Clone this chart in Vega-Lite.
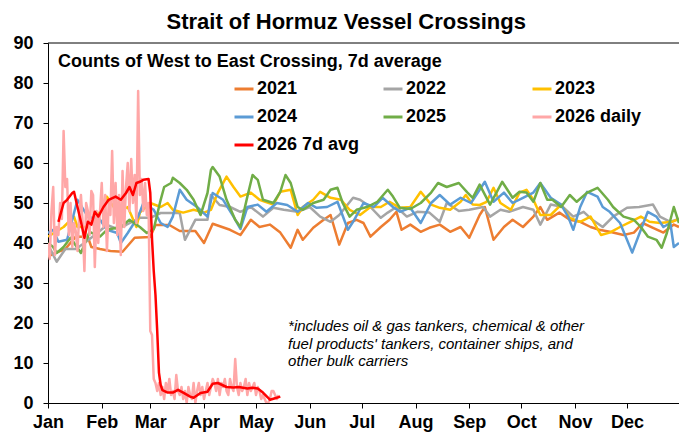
{
  "$schema": "https://vega.github.io/schema/vega-lite/v6.json",
  "width": 631,
  "height": 360,
  "autosize": {"type": "none"},
  "padding": {"left": 48, "top": 43, "right": 0, "bottom": 34},
  "background": "white",
  "config": {
    "view": {"stroke": null},
    "font": "Liberation Sans",
    "title": {"font": "Liberation Sans"},
    "axis": {"labelFont": "Liberation Sans", "titleFont": "Liberation Sans"},
    "legend": {"labelFont": "Liberation Sans"}
  },
  "title": {
    "text": "Strait of Hormuz Vessel Crossings",
    "fontSize": 22,
    "fontWeight": "bold",
    "color": "black",
    "anchor": "middle",
    "frame": "bounds",
    "offset": 0
  },
  "datasets": {
    "main": [
      {"series":"2021","day":0,"value":36.6},{"series":"2021","day":4,"value":37.5},{"series":"2021","day":10,"value":38.5},{"series":"2021","day":16,"value":41.6},{"series":"2021","day":23,"value":41.5},{"series":"2021","day":25,"value":39},{"series":"2021","day":30,"value":38.5},{"series":"2021","day":36,"value":38},{"series":"2021","day":43,"value":37.8},{"series":"2021","day":50,"value":41.3},{"series":"2021","day":59,"value":41.5},{"series":"2021","day":62,"value":44.5},{"series":"2021","day":70,"value":44.5},{"series":"2021","day":76,"value":43},{"series":"2021","day":85,"value":43},{"series":"2021","day":90,"value":40},{"series":"2021","day":95,"value":44.8},{"series":"2021","day":105,"value":43.3},{"series":"2021","day":111,"value":42},{"series":"2021","day":117,"value":45.8},{"series":"2021","day":122,"value":44},{"series":"2021","day":128,"value":44.6},{"series":"2021","day":134,"value":42.6},{"series":"2021","day":140,"value":38.8},{"series":"2021","day":144,"value":43.3},{"series":"2021","day":147,"value":40.8},{"series":"2021","day":153,"value":43.8},{"series":"2021","day":159,"value":45.8},{"series":"2021","day":163,"value":47},{"series":"2021","day":168,"value":39.6},{"series":"2021","day":173,"value":45},{"series":"2021","day":178,"value":45.8},{"series":"2021","day":182,"value":45},{"series":"2021","day":186,"value":41.6},{"series":"2021","day":192,"value":44},{"series":"2021","day":197,"value":45.8},{"series":"2021","day":201,"value":47.8},{"series":"2021","day":204,"value":43.3},{"series":"2021","day":209,"value":44.6},{"series":"2021","day":215,"value":42.8},{"series":"2021","day":220,"value":43.8},{"series":"2021","day":226,"value":44.6},{"series":"2021","day":232,"value":42.8},{"series":"2021","day":238,"value":44},{"series":"2021","day":243,"value":41.3},{"series":"2021","day":249,"value":47},{"series":"2021","day":252,"value":49},{"series":"2021","day":257,"value":40.8},{"series":"2021","day":263,"value":44},{"series":"2021","day":268,"value":45.8},{"series":"2021","day":274,"value":44},{"series":"2021","day":280,"value":46.6},{"series":"2021","day":284,"value":49},{"series":"2021","day":288,"value":45.8},{"series":"2021","day":295,"value":47.6},{"series":"2021","day":301,"value":45.8},{"series":"2021","day":307,"value":45.3},{"series":"2021","day":313,"value":44},{"series":"2021","day":318,"value":43.3},{"series":"2021","day":324,"value":42.8},{"series":"2021","day":332,"value":42},{"series":"2021","day":338,"value":42.6},{"series":"2021","day":343,"value":45},{"series":"2021","day":349,"value":43.8},{"series":"2021","day":355,"value":42.6},{"series":"2021","day":361,"value":44.6},{"series":"2021","day":364,"value":44},
      {"series":"2022","day":0,"value":39.6},{"series":"2022","day":5,"value":35.3},{"series":"2022","day":10,"value":38.5},{"series":"2022","day":16,"value":38.5},{"series":"2022","day":21,"value":40},{"series":"2022","day":27,"value":42},{"series":"2022","day":34,"value":44.5},{"series":"2022","day":40,"value":43.5},{"series":"2022","day":45,"value":44.5},{"series":"2022","day":53,"value":46.3},{"series":"2022","day":59,"value":46.3},{"series":"2022","day":65,"value":47.5},{"series":"2022","day":70,"value":47.5},{"series":"2022","day":76,"value":47.5},{"series":"2022","day":79,"value":40.8},{"series":"2022","day":85,"value":45.8},{"series":"2022","day":92,"value":45.8},{"series":"2022","day":94,"value":52},{"series":"2022","day":99,"value":49.5},{"series":"2022","day":105,"value":49},{"series":"2022","day":111,"value":47.8},{"series":"2022","day":117,"value":49},{"series":"2022","day":124,"value":46.6},{"series":"2022","day":130,"value":48.8},{"series":"2022","day":136,"value":48.3},{"series":"2022","day":144,"value":47.8},{"series":"2022","day":151,"value":49},{"series":"2022","day":157,"value":46.6},{"series":"2022","day":163,"value":45.3},{"series":"2022","day":168,"value":47},{"series":"2022","day":176,"value":51.3},{"series":"2022","day":180,"value":50.8},{"series":"2022","day":186,"value":49},{"series":"2022","day":192,"value":46.3},{"series":"2022","day":196,"value":47.6},{"series":"2022","day":201,"value":49},{"series":"2022","day":207,"value":46.6},{"series":"2022","day":213,"value":47.8},{"series":"2022","day":220,"value":47.6},{"series":"2022","day":226,"value":45.3},{"series":"2022","day":230,"value":50},{"series":"2022","day":237,"value":48},{"series":"2022","day":243,"value":48.3},{"series":"2022","day":251,"value":49},{"series":"2022","day":255,"value":46.6},{"series":"2022","day":261,"value":48.3},{"series":"2022","day":266,"value":47.8},{"series":"2022","day":274,"value":49},{"series":"2022","day":280,"value":48.3},{"series":"2022","day":284,"value":44.6},{"series":"2022","day":290,"value":49.6},{"series":"2022","day":297,"value":49},{"series":"2022","day":303,"value":46.6},{"series":"2022","day":309,"value":47.8},{"series":"2022","day":314,"value":45.8},{"series":"2022","day":320,"value":44},{"series":"2022","day":326,"value":46.6},{"series":"2022","day":334,"value":48.8},{"series":"2022","day":341,"value":49},{"series":"2022","day":349,"value":49.6},{"series":"2022","day":353,"value":46.6},{"series":"2022","day":359,"value":45.3},{"series":"2022","day":364,"value":46},
      {"series":"2023","day":0,"value":41.6},{"series":"2023","day":9,"value":44},{"series":"2023","day":15,"value":46.6},{"series":"2023","day":17,"value":44},{"series":"2023","day":23,"value":44},{"series":"2023","day":28,"value":46.6},{"series":"2023","day":32,"value":49},{"series":"2023","day":34,"value":51.6},{"series":"2023","day":40,"value":47.6},{"series":"2023","day":46,"value":49},{"series":"2023","day":51,"value":44},{"series":"2023","day":53,"value":47.6},{"series":"2023","day":59,"value":50},{"series":"2023","day":65,"value":49},{"series":"2023","day":69,"value":50},{"series":"2023","day":72,"value":48.3},{"series":"2023","day":78,"value":47.6},{"series":"2023","day":84,"value":48.3},{"series":"2023","day":90,"value":47.6},{"series":"2023","day":94,"value":48.3},{"series":"2023","day":98,"value":52.6},{"series":"2023","day":103,"value":56.6},{"series":"2023","day":107,"value":54},{"series":"2023","day":111,"value":51.6},{"series":"2023","day":117,"value":52.6},{"series":"2023","day":122,"value":50.8},{"series":"2023","day":130,"value":49.6},{"series":"2023","day":134,"value":52.8},{"series":"2023","day":140,"value":53.3},{"series":"2023","day":144,"value":47},{"series":"2023","day":147,"value":49},{"series":"2023","day":153,"value":50.8},{"series":"2023","day":157,"value":52.8},{"series":"2023","day":163,"value":51.3},{"series":"2023","day":169,"value":50.8},{"series":"2023","day":174,"value":48.3},{"series":"2023","day":180,"value":47},{"series":"2023","day":186,"value":49},{"series":"2023","day":192,"value":49},{"series":"2023","day":197,"value":50.3},{"series":"2023","day":203,"value":48.8},{"series":"2023","day":209,"value":49},{"series":"2023","day":215,"value":52.8},{"series":"2023","day":221,"value":49.6},{"series":"2023","day":226,"value":48.8},{"series":"2023","day":232,"value":48.3},{"series":"2023","day":238,"value":50.3},{"series":"2023","day":241,"value":52},{"series":"2023","day":245,"value":49.6},{"series":"2023","day":249,"value":49.5},{"series":"2023","day":253,"value":50.3},{"series":"2023","day":257,"value":53.8},{"series":"2023","day":261,"value":50},{"series":"2023","day":267,"value":48.3},{"series":"2023","day":272,"value":52.6},{"series":"2023","day":276,"value":53.3},{"series":"2023","day":280,"value":50.8},{"series":"2023","day":284,"value":47},{"series":"2023","day":290,"value":47},{"series":"2023","day":296,"value":49.6},{"series":"2023","day":301,"value":46.3},{"series":"2023","day":307,"value":45.3},{"series":"2023","day":313,"value":46.6},{"series":"2023","day":319,"value":42},{"series":"2023","day":324,"value":42.6},{"series":"2023","day":330,"value":44},{"series":"2023","day":336,"value":45.3},{"series":"2023","day":342,"value":46.6},{"series":"2023","day":347,"value":45.3},{"series":"2023","day":353,"value":45},{"series":"2023","day":360,"value":45.3},{"series":"2023","day":364,"value":46},
      {"series":"2024","day":0,"value":42.5},{"series":"2024","day":3,"value":43.3},{"series":"2024","day":6,"value":40.3},{"series":"2024","day":11,"value":40.8},{"series":"2024","day":17,"value":50.8},{"series":"2024","day":23,"value":46.6},{"series":"2024","day":30,"value":45.8},{"series":"2024","day":34,"value":43.3},{"series":"2024","day":40,"value":42.5},{"series":"2024","day":42,"value":40},{"series":"2024","day":46,"value":42.5},{"series":"2024","day":52,"value":46.6},{"series":"2024","day":55,"value":50},{"series":"2024","day":61,"value":48.3},{"series":"2024","day":65,"value":45},{"series":"2024","day":69,"value":44},{"series":"2024","day":72,"value":46.6},{"series":"2024","day":76,"value":53.3},{"series":"2024","day":80,"value":50.8},{"series":"2024","day":86,"value":49},{"series":"2024","day":92,"value":46.6},{"series":"2024","day":95,"value":52.5},{"series":"2024","day":101,"value":50.8},{"series":"2024","day":107,"value":46.6},{"series":"2024","day":111,"value":43.5},{"series":"2024","day":115,"value":49},{"series":"2024","day":121,"value":49.6},{"series":"2024","day":126,"value":47.8},{"series":"2024","day":132,"value":50},{"series":"2024","day":138,"value":49.5},{"series":"2024","day":144,"value":47.8},{"series":"2024","day":150,"value":50},{"series":"2024","day":155,"value":48.8},{"series":"2024","day":161,"value":49},{"series":"2024","day":167,"value":50.3},{"series":"2024","day":173,"value":43.3},{"series":"2024","day":176,"value":45.3},{"series":"2024","day":182,"value":50},{"series":"2024","day":188,"value":49},{"series":"2024","day":193,"value":51.3},{"series":"2024","day":199,"value":49},{"series":"2024","day":203,"value":47.8},{"series":"2024","day":209,"value":48.8},{"series":"2024","day":215,"value":45},{"series":"2024","day":221,"value":50},{"series":"2024","day":226,"value":52},{"series":"2024","day":232,"value":49.6},{"series":"2024","day":238,"value":51.3},{"series":"2024","day":244,"value":50},{"series":"2024","day":249,"value":53.3},{"series":"2024","day":252,"value":55.3},{"series":"2024","day":257,"value":50.3},{"series":"2024","day":263,"value":52.6},{"series":"2024","day":268,"value":50},{"series":"2024","day":274,"value":51.3},{"series":"2024","day":280,"value":52.6},{"series":"2024","day":284,"value":55},{"series":"2024","day":290,"value":51.3},{"series":"2024","day":296,"value":49.6},{"series":"2024","day":300,"value":46.6},{"series":"2024","day":303,"value":43.3},{"series":"2024","day":307,"value":49},{"series":"2024","day":311,"value":52.8},{"series":"2024","day":317,"value":51.6},{"series":"2024","day":320,"value":49},{"series":"2024","day":324,"value":47.8},{"series":"2024","day":330,"value":45},{"series":"2024","day":334,"value":40.8},{"series":"2024","day":337,"value":37.6},{"series":"2024","day":342,"value":43.3},{"series":"2024","day":346,"value":47.8},{"series":"2024","day":351,"value":46.6},{"series":"2024","day":355,"value":44},{"series":"2024","day":359,"value":45},{"series":"2024","day":361,"value":39},{"series":"2024","day":364,"value":40},
      {"series":"2025","day":0,"value":40},{"series":"2025","day":3,"value":39},{"series":"2025","day":5,"value":37.5},{"series":"2025","day":9,"value":39},{"series":"2025","day":13,"value":41.3},{"series":"2025","day":19,"value":37.5},{"series":"2025","day":24,"value":42.8},{"series":"2025","day":30,"value":41.6},{"series":"2025","day":34,"value":43.3},{"series":"2025","day":42,"value":44},{"series":"2025","day":47,"value":45.8},{"series":"2025","day":53,"value":44},{"series":"2025","day":57,"value":42.5},{"series":"2025","day":61,"value":43.5},{"series":"2025","day":65,"value":50.8},{"series":"2025","day":67,"value":54},{"series":"2025","day":71,"value":55},{"series":"2025","day":72,"value":56.3},{"series":"2025","day":76,"value":55},{"series":"2025","day":80,"value":53.3},{"series":"2025","day":84,"value":50.8},{"series":"2025","day":88,"value":47},{"series":"2025","day":92,"value":52.5},{"series":"2025","day":94,"value":58.3},{"series":"2025","day":95,"value":59},{"series":"2025","day":99,"value":56.6},{"series":"2025","day":103,"value":50.8},{"series":"2025","day":108,"value":45.8},{"series":"2025","day":111,"value":44},{"series":"2025","day":115,"value":51.6},{"series":"2025","day":118,"value":57},{"series":"2025","day":121,"value":55.8},{"series":"2025","day":124,"value":50.8},{"series":"2025","day":130,"value":50},{"series":"2025","day":134,"value":52.8},{"series":"2025","day":137,"value":57},{"series":"2025","day":140,"value":55},{"series":"2025","day":144,"value":49},{"series":"2025","day":147,"value":48.3},{"series":"2025","day":153,"value":50},{"series":"2025","day":159,"value":50.8},{"series":"2025","day":163,"value":53.3},{"series":"2025","day":167,"value":53.8},{"series":"2025","day":170,"value":50},{"series":"2025","day":174,"value":46.6},{"series":"2025","day":178,"value":48.3},{"series":"2025","day":184,"value":49},{"series":"2025","day":190,"value":50.3},{"series":"2025","day":196,"value":53.3},{"series":"2025","day":199,"value":51.6},{"series":"2025","day":203,"value":48.8},{"series":"2025","day":209,"value":48.5},{"series":"2025","day":215,"value":50},{"series":"2025","day":221,"value":52.6},{"series":"2025","day":225,"value":55},{"series":"2025","day":230,"value":54},{"series":"2025","day":237,"value":55},{"series":"2025","day":242,"value":52.6},{"series":"2025","day":245,"value":51.3},{"series":"2025","day":249,"value":54.6},{"series":"2025","day":255,"value":49.6},{"series":"2025","day":262,"value":55.3},{"series":"2025","day":265,"value":53.3},{"series":"2025","day":268,"value":51.3},{"series":"2025","day":272,"value":52.8},{"series":"2025","day":276,"value":52.6},{"series":"2025","day":280,"value":50.3},{"series":"2025","day":284,"value":55},{"series":"2025","day":288,"value":50.8},{"series":"2025","day":291,"value":50.8},{"series":"2025","day":296,"value":49},{"series":"2025","day":301,"value":52},{"series":"2025","day":305,"value":50.3},{"series":"2025","day":311,"value":52.6},{"series":"2025","day":317,"value":53.8},{"series":"2025","day":323,"value":50.8},{"series":"2025","day":326,"value":49},{"series":"2025","day":332,"value":46.6},{"series":"2025","day":338,"value":45.8},{"series":"2025","day":342,"value":44},{"series":"2025","day":346,"value":41.6},{"series":"2025","day":351,"value":40.8},{"series":"2025","day":354,"value":38.8},{"series":"2025","day":357,"value":42.5},{"series":"2025","day":361,"value":49},{"series":"2025","day":364,"value":45},
      {"series":"2026 daily","day":0,"value":40},{"series":"2026 daily","day":1,"value":36},{"series":"2026 daily","day":2,"value":48},{"series":"2026 daily","day":3,"value":54},{"series":"2026 daily","day":4,"value":37},{"series":"2026 daily","day":5,"value":44},{"series":"2026 daily","day":6,"value":42},{"series":"2026 daily","day":7,"value":50},{"series":"2026 daily","day":8,"value":46},{"series":"2026 daily","day":9,"value":68},{"series":"2026 daily","day":10,"value":54},{"series":"2026 daily","day":11,"value":56},{"series":"2026 daily","day":12,"value":42},{"series":"2026 daily","day":13,"value":50},{"series":"2026 daily","day":14,"value":39},{"series":"2026 daily","day":15,"value":45},{"series":"2026 daily","day":16,"value":43},{"series":"2026 daily","day":17,"value":38},{"series":"2026 daily","day":18,"value":47},{"series":"2026 daily","day":19,"value":52},{"series":"2026 daily","day":20,"value":45},{"series":"2026 daily","day":21,"value":33},{"series":"2026 daily","day":22,"value":50},{"series":"2026 daily","day":23,"value":48},{"series":"2026 daily","day":24,"value":42},{"series":"2026 daily","day":25,"value":53},{"series":"2026 daily","day":26,"value":52},{"series":"2026 daily","day":27,"value":34},{"series":"2026 daily","day":28,"value":48},{"series":"2026 daily","day":29,"value":40},{"series":"2026 daily","day":30,"value":48},{"series":"2026 daily","day":31,"value":55},{"series":"2026 daily","day":32,"value":44},{"series":"2026 daily","day":33,"value":52},{"series":"2026 daily","day":34,"value":38},{"series":"2026 daily","day":35,"value":50},{"series":"2026 daily","day":36,"value":47},{"series":"2026 daily","day":37,"value":63},{"series":"2026 daily","day":38,"value":45},{"series":"2026 daily","day":39,"value":55},{"series":"2026 daily","day":40,"value":42},{"series":"2026 daily","day":41,"value":52},{"series":"2026 daily","day":42,"value":37},{"series":"2026 daily","day":43,"value":58},{"series":"2026 daily","day":44,"value":44},{"series":"2026 daily","day":45,"value":54},{"series":"2026 daily","day":46,"value":60},{"series":"2026 daily","day":47,"value":48},{"series":"2026 daily","day":48,"value":61},{"series":"2026 daily","day":49,"value":50},{"series":"2026 daily","day":50,"value":57},{"series":"2026 daily","day":51,"value":45},{"series":"2026 daily","day":52,"value":78},{"series":"2026 daily","day":53,"value":52},{"series":"2026 daily","day":54,"value":56},{"series":"2026 daily","day":55,"value":48},{"series":"2026 daily","day":56,"value":55},{"series":"2026 daily","day":57,"value":47},{"series":"2026 daily","day":58,"value":50},{"series":"2026 daily","day":59,"value":18},{"series":"2026 daily","day":60,"value":17},{"series":"2026 daily","day":61,"value":6},{"series":"2026 daily","day":62,"value":5},{"series":"2026 daily","day":63,"value":3},{"series":"2026 daily","day":64,"value":5},{"series":"2026 daily","day":65,"value":2},{"series":"2026 daily","day":66,"value":4},{"series":"2026 daily","day":67,"value":1},{"series":"2026 daily","day":68,"value":5},{"series":"2026 daily","day":69,"value":3},{"series":"2026 daily","day":70,"value":6},{"series":"2026 daily","day":71,"value":2},{"series":"2026 daily","day":72,"value":3},{"series":"2026 daily","day":73,"value":1},{"series":"2026 daily","day":74,"value":7},{"series":"2026 daily","day":75,"value":3},{"series":"2026 daily","day":76,"value":2},{"series":"2026 daily","day":77,"value":4},{"series":"2026 daily","day":78,"value":1},{"series":"2026 daily","day":79,"value":3},{"series":"2026 daily","day":80,"value":0},{"series":"2026 daily","day":81,"value":4},{"series":"2026 daily","day":82,"value":2},{"series":"2026 daily","day":83,"value":1},{"series":"2026 daily","day":84,"value":5},{"series":"2026 daily","day":85,"value":0},{"series":"2026 daily","day":86,"value":3},{"series":"2026 daily","day":87,"value":5},{"series":"2026 daily","day":88,"value":2},{"series":"2026 daily","day":89,"value":4},{"series":"2026 daily","day":90,"value":1},{"series":"2026 daily","day":91,"value":3},{"series":"2026 daily","day":92,"value":5},{"series":"2026 daily","day":93,"value":2},{"series":"2026 daily","day":94,"value":4},{"series":"2026 daily","day":95,"value":6},{"series":"2026 daily","day":96,"value":5},{"series":"2026 daily","day":97,"value":3},{"series":"2026 daily","day":98,"value":6},{"series":"2026 daily","day":99,"value":2},{"series":"2026 daily","day":100,"value":5},{"series":"2026 daily","day":101,"value":4},{"series":"2026 daily","day":102,"value":6},{"series":"2026 daily","day":103,"value":3},{"series":"2026 daily","day":104,"value":2},{"series":"2026 daily","day":105,"value":6},{"series":"2026 daily","day":106,"value":4},{"series":"2026 daily","day":107,"value":3},{"series":"2026 daily","day":108,"value":11},{"series":"2026 daily","day":109,"value":4},{"series":"2026 daily","day":110,"value":2},{"series":"2026 daily","day":111,"value":5},{"series":"2026 daily","day":112,"value":3},{"series":"2026 daily","day":113,"value":4},{"series":"2026 daily","day":114,"value":6},{"series":"2026 daily","day":115,"value":2},{"series":"2026 daily","day":116,"value":5},{"series":"2026 daily","day":117,"value":3},{"series":"2026 daily","day":118,"value":4},{"series":"2026 daily","day":119,"value":5},{"series":"2026 daily","day":120,"value":2},{"series":"2026 daily","day":121,"value":4},{"series":"2026 daily","day":122,"value":3},{"series":"2026 daily","day":123,"value":1},{"series":"2026 daily","day":124,"value":2},{"series":"2026 daily","day":125,"value":1},{"series":"2026 daily","day":126,"value":0},{"series":"2026 daily","day":127,"value":0},{"series":"2026 daily","day":128,"value":1},{"series":"2026 daily","day":129,"value":3},{"series":"2026 daily","day":130,"value":3},{"series":"2026 daily","day":131,"value":2},{"series":"2026 daily","day":132,"value":1},{"series":"2026 daily","day":133,"value":2},
      {"series":"2026 7d avg","day":6,"value":45.3},{"series":"2026 7d avg","day":9,"value":50},{"series":"2026 7d avg","day":11,"value":50.8},{"series":"2026 7d avg","day":14,"value":52.5},{"series":"2026 7d avg","day":15,"value":52.8},{"series":"2026 7d avg","day":17,"value":49},{"series":"2026 7d avg","day":19,"value":45.3},{"series":"2026 7d avg","day":20,"value":43.3},{"series":"2026 7d avg","day":21,"value":41.3},{"series":"2026 7d avg","day":23,"value":45.3},{"series":"2026 7d avg","day":25,"value":44.6},{"series":"2026 7d avg","day":27,"value":47.8},{"series":"2026 7d avg","day":29,"value":46.6},{"series":"2026 7d avg","day":32,"value":49},{"series":"2026 7d avg","day":35,"value":50.8},{"series":"2026 7d avg","day":39,"value":51.6},{"series":"2026 7d avg","day":42,"value":50.8},{"series":"2026 7d avg","day":45,"value":52.5},{"series":"2026 7d avg","day":47,"value":54},{"series":"2026 7d avg","day":49,"value":52},{"series":"2026 7d avg","day":51,"value":55},{"series":"2026 7d avg","day":53,"value":55.3},{"series":"2026 7d avg","day":55,"value":55.8},{"series":"2026 7d avg","day":58,"value":56},{"series":"2026 7d avg","day":59,"value":52.5},{"series":"2026 7d avg","day":60,"value":41},{"series":"2026 7d avg","day":61,"value":33},{"series":"2026 7d avg","day":62,"value":27},{"series":"2026 7d avg","day":63,"value":18},{"series":"2026 7d avg","day":64,"value":7.6},{"series":"2026 7d avg","day":65,"value":4.5},{"series":"2026 7d avg","day":66,"value":3.2},{"series":"2026 7d avg","day":69,"value":2.6},{"series":"2026 7d avg","day":72,"value":2.6},{"series":"2026 7d avg","day":75,"value":3.3},{"series":"2026 7d avg","day":78,"value":2.6},{"series":"2026 7d avg","day":82,"value":1.6},{"series":"2026 7d avg","day":84,"value":1.3},{"series":"2026 7d avg","day":88,"value":2.5},{"series":"2026 7d avg","day":92,"value":2.8},{"series":"2026 7d avg","day":95,"value":4.8},{"series":"2026 7d avg","day":98,"value":5},{"series":"2026 7d avg","day":103,"value":4},{"series":"2026 7d avg","day":107,"value":3.9},{"series":"2026 7d avg","day":110,"value":4},{"series":"2026 7d avg","day":115,"value":3.6},{"series":"2026 7d avg","day":118,"value":3.8},{"series":"2026 7d avg","day":121,"value":3.6},{"series":"2026 7d avg","day":124,"value":2.6},{"series":"2026 7d avg","day":127,"value":1.3},{"series":"2026 7d avg","day":128,"value":0.8},{"series":"2026 7d avg","day":131,"value":1.2},{"series":"2026 7d avg","day":134,"value":1.6}
    ]
  },
  "encoding": {
    "x": {
      "field": "day", "type": "quantitative",
      "scale": {"domain": [0, 364], "nice": false, "zero": false},
      "axis": {
        "values": [0, 31, 59, 90, 120, 151, 181, 212, 243, 273, 304, 334],
        "labelExpr": "timeFormat(datetime(2026, 0, 1 + datum.value), '%b')",
        "title": null, "grid": false, "tickSize": 5, "labelPadding": 5,
        "labelFontSize": 18, "labelFontWeight": "bold", "labelColor": "black",
        "domainColor": "black", "tickColor": "black", "labelFlush": false, "labelOverlap": false
      }
    },
    "y": {
      "field": "value", "type": "quantitative",
      "scale": {"domain": [0, 90], "nice": false, "zero": true},
      "axis": {
        "values": [0, 10, 20, 30, 40, 50, 60, 70, 80, 90],
        "title": null, "grid": false, "tickSize": 5, "labelPadding": 10,
        "labelFontSize": 18, "labelFontWeight": "bold", "labelColor": "black",
        "domainColor": "black", "tickColor": "black", "labelOverlap": false
      }
    }
  },
  "layer": [
    {
      "data": {"name": "main"},
      "transform": [{"filter": "datum.series !== '2026 7d avg'"}],
      "mark": {"type": "line", "strokeWidth": 2.5, "strokeJoin": "round", "clip": true},
      "encoding": {
        "color": {
          "field": "series", "type": "nominal",
          "scale": {
            "domain": ["2021", "2024", "2026 daily", "2022", "2025", "2026 7d avg", "2023"],
            "range": ["#ED7D31", "#5B9BD5", "#FFA7A7", "#A5A5A5", "#70AD47", "#FF0000", "#FFC000"]
          },
          "legend": {
            "title": null, "orient": "none", "legendX": 185, "legendY": 35,
            "columns": 3, "gridAlign": "all", "columnPadding": 17, "rowPadding": 8,
            "symbolType": "stroke", "symbolSize": 361, "symbolStrokeWidth": 3,
            "labelFontSize": 18, "labelFontWeight": "bold", "labelColor": "black",
            "labelOffset": 2, "labelLimit": 300, "padding": 0
          }
        }
      }
    },
    {
      "data": {"name": "main"},
      "transform": [{"filter": "datum.series === '2026 7d avg'"}],
      "mark": {"type": "line", "strokeWidth": 2.5, "strokeJoin": "round"},
      "encoding": {
        "color": {
          "field": "series", "type": "nominal",
          "scale": {
            "domain": ["2021", "2024", "2026 daily", "2022", "2025", "2026 7d avg", "2023"],
            "range": ["#ED7D31", "#5B9BD5", "#FFA7A7", "#A5A5A5", "#70AD47", "#FF0000", "#FFC000"]
          }
        }
      }
    },
    {
      "data": {"values": [{"value": 90}]},
      "mark": {"type": "rule", "color": "black", "strokeWidth": 1},
      "encoding": {"x": null}
    },
    {
      "data": {"values": [{"day": 5.8, "value": 85.3, "label": "Counts of West to East Crossing, 7d average"}]},
      "mark": {"type": "text", "align": "left", "baseline": "middle", "fontSize": 18, "fontWeight": "bold", "color": "black"},
      "encoding": {"text": {"field": "label"}}
    },
    {
      "data": {"values": [{"day": 138.5, "value": 21, "label": "*includes oil & gas tankers, chemical & other|fuel products' tankers, container ships, and|other bulk carriers"}]},
      "mark": {"type": "text", "align": "left", "baseline": "top", "fontSize": 15, "fontStyle": "italic", "color": "black", "lineBreak": "|", "lineHeight": 17.5},
      "encoding": {"text": {"field": "label"}}
    }
  ]
}
